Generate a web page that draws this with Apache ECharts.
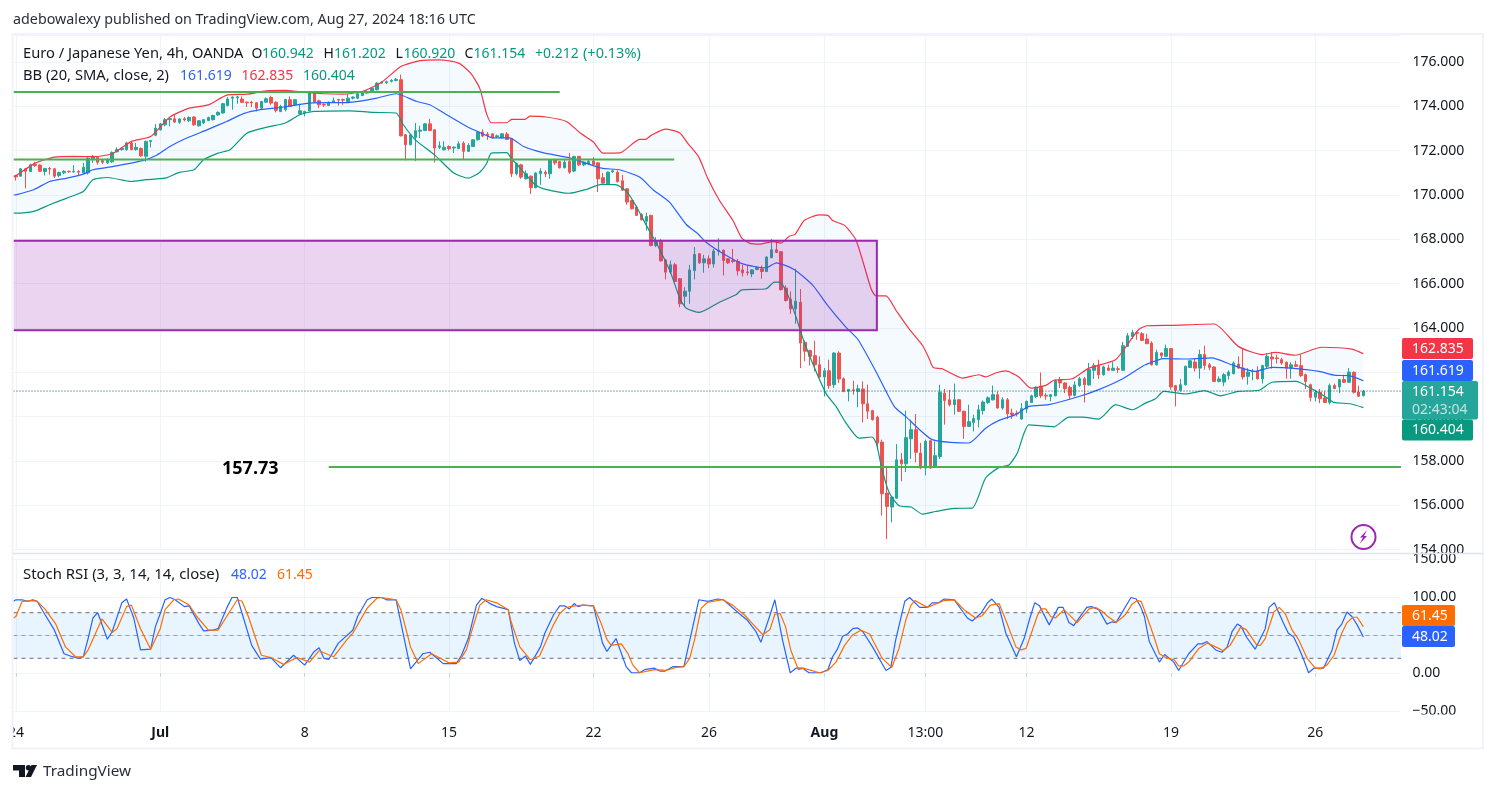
<!DOCTYPE html>
<html>
<head>
<meta charset="utf-8">
<title>EUR/JPY 4h</title>
<script src="https://cdn.jsdelivr.net/npm/echarts@6/dist/echarts.min.js"></script>
<style>
    html, body { margin: 0; padding: 0; background: #fff; }
    #main { width: 1496px; height: 793px; }
</style>
</head>
<body>
<div id="main"></div>
<script>
// time axis
var barCount = 288;
var tickIndex = [0, 30, 60, 90, 120, 144, 168, 189, 210, 240, 270];
var tickText = ['24', 'Jul', '8', '15', '22', '26', 'Aug', '13:00', '12', '19', '26'];
var priceTicks = { min: 154, max: 177.22, step: 2 };

// candles, each row: open, close, low, high
var candles = [
    [170.87,170.82,170.65,170.9],[170.85,171.18,170.83,171.22],[171.18,171.07,170.3,171.22],[171.06,171.36,171.05,171.42],
    [171.38,171.33,171.27,171.5],[171.35,171.07,171.05,171.38],[171.06,171.2,170.88,171.22],[171.2,171.17,170.92,171.26],
    [171.18,170.85,170.77,171.22],[170.88,171.02,170.8,171.05],[171,171.07,170.95,171.12],[171.07,171.05,171,171.1],
    [171.04,171.06,171.02,171.35],[171.06,171.03,170.88,171.12],[171,171.25,170.97,171.45],[171,171.66,170.92,171.74],
    [171.6,171.75,171.45,171.8],[171.7,171.48,171.37,171.72],[171.55,171.48,171.4,171.6],[171.45,171.62,171.4,171.65],
    [171.5,171.92,171.45,171.97],[171.95,172.05,171.92,172.15],[172.05,172.1,172,172.15],[172.05,172.35,172,172.4],
    [172.35,172.05,172.02,172.4],[172.05,172.15,172,172.35],[172.1,171.77,171.72,172.15],[171.75,172.42,171.5,172.45],
    [172.42,172.46,172.15,172.47],[172.7,173.02,172.65,173.2],[172.94,173.21,172.91,173.25],[173.17,173.4,173.1,173.47],
    [173.4,173.44,173.1,173.47],[173.44,173.29,173.25,173.62],[173.28,173.43,173.21,173.46],[173.44,173.39,173.32,173.52],
    [173.35,173.5,173.3,173.55],[173.52,173.17,173.12,173.55],[173.12,173.35,173.09,173.38],[173.25,173.4,173.21,173.43],
    [173.36,173.5,173.33,173.53],[173.4,173.59,173.36,173.62],[173.61,173.73,173.58,173.77],[173.7,174.12,173.67,174.15],
    [174.04,174.33,174,174.42],[174.37,174.42,173.85,174.45],[174.39,174.43,174.12,174.48],[174.33,174.18,174.15,174.45],
    [174.19,174.16,173.97,174.22],[174.19,174.16,173.97,174.25],[174.16,173.92,173.77,174.19],[173.92,174.22,173.88,174.25],
    [174.19,174.34,174.16,174.4],[174.4,174.15,174.07,174.48],[174.19,173.82,173.73,174.22],[173.77,174,173.74,174.07],
    [173.85,174.31,173.77,174.34],[174.3,174,173.97,174.45],[174.07,174.3,174.03,174.33],[173.67,173.8,173.62,174.12],
    [173.7,173.77,173.55,173.8],[173.8,174.6,173.77,174.63],[174.6,174.19,174.16,174.63],[174.25,174.07,173.92,174.3],
    [174.09,174.06,173.97,174.13],[174.04,174.19,174.01,174.22],[174.18,174.25,174.15,174.4],[174.31,174.28,174.03,174.34],
    [174.31,174.28,174.06,174.36],[174.22,174.37,174.19,174.57],[174.37,174.42,174.31,174.45],[174.37,174.57,174.34,174.6],
    [174.49,174.64,174.46,174.67],[174.6,174.67,174.57,174.72],[174.64,174.82,174.6,174.87],[174.75,175.05,174.72,175.09],
    [175.05,175.09,175.02,175.14],[175.07,175.11,175.02,175.16],[175.13,175.17,175.08,175.23],[175.17,175.22,175.13,175.28],
    [175.2,172.67,172.64,175.43],[172.72,172.27,171.56,172.75],[172.27,172.72,172.24,172.75],[172.6,172.9,171.53,173.25],
    [172.88,172.93,172.57,173.13],[172.91,173.21,172.88,173.25],[173.21,172.91,172.88,173.44],[172.94,172.12,171.47,172.97],
    [172.15,172.22,172.07,172.42],[172.04,172.16,172.01,172.42],[172.19,172.09,172.01,172.24],[172.12,172.16,171.89,172.19],
    [172.1,172.31,172.07,172.42],[172.34,171.97,171.59,172.42],[171.97,172.24,171.94,172.34],[172.19,172.49,172.16,172.52],
    [172.49,172.84,172.46,172.87],[172.84,172.66,172.61,172.96],[172.75,172.69,172.49,172.84],[172.76,172.58,172.55,172.79],
    [172.64,172.67,172.58,172.72],[172.58,172.76,172.55,172.79],[172.75,172.51,172.48,172.84],[172.54,170.96,170.81,172.57],
    [170.96,171.41,170.88,171.45],[171.36,170.81,170.73,171.41],[170.73,170.96,170.7,171.11],[170.85,170.33,170.05,170.88],
    [170.33,170.99,170.3,171.02],[170.96,171.08,170.46,171.21],[171.03,170.96,170.81,171.11],[170.96,171.59,170.73,171.62],
    [171.59,171.45,171.36,171.63],[171.51,171.23,171.2,171.54],[171.23,171.48,171.2,171.63],[171.51,171.03,170.96,171.9],
    [171.08,171.74,171.03,171.77],[171.74,171.36,171.3,171.77],[171.36,171.48,171.3,171.51],[171.41,171.51,171.36,171.63],
    [171.53,171.38,171.35,171.71],[171.45,170.73,170.13,171.48],[170.78,170.54,170.51,171],[170.51,171.03,170.48,171.06],
    [171.05,171.09,171,171.15],[171.03,170.6,170.57,171.11],[170.64,170.22,170.19,170.91],[170.28,169.68,169.56,170.31],
    [169.75,169.38,169.35,169.78],[169.45,169.08,169.05,169.53],[169.12,168.88,168.85,169.18],[168.82,169.03,168.4,169.2],
    [169.08,167.72,167.68,169.11],[167.72,167.95,167.65,168.1],[167.9,167.03,167,168.02],[167.07,166.52,166.19,167.12],
    [166.52,166.85,166.44,167.04],[166.85,166.1,166.07,166.94],[166.22,165.09,164.94,166.25],[165.43,165.66,164.98,165.84],
    [165.66,166.62,165.09,166.85],[166.59,167.32,166.19,167.65],[167.35,166.94,166.89,167.38],[166.94,167.12,166.49,167.3],
    [167.12,166.89,166.7,167.27],[166.89,167.47,166.73,167.57],[167.47,167.51,167.27,168.05],[167.51,167.04,166.37,167.54],
    [167.12,166.94,166.89,167.15],[167.04,167,166.92,167.57],[167,166.58,166.37,167.12],[166.62,166.49,166.32,166.85],
    [166.53,166.5,166.37,166.82],[166.44,166.62,166.29,166.65],[166.64,166.74,166.61,166.79],[166.67,166.55,166.22,166.82],
    [166.55,167.2,166.52,167.23],[167.17,167.53,167.15,168.02],[167.53,167.41,167.38,167.95],[167.44,165.73,165.69,167.47],
    [165.8,165.24,165.19,165.92],[165.31,164.86,164.64,165.65],[164.86,165.21,164.19,166.67],[165.16,163.32,162.19,165.76],
    [163.35,162.95,162.5,163.43],[162.98,162.72,162.3,163.02],[162.75,162.34,162.04,163.43],[162.34,161.79,161.74,162.72],
    [161.79,162.07,160.91,162.19],[162.07,161.4,161.25,162.57],[161.44,162.87,161.29,162.9],[162.87,161.7,161.52,162.95],
    [161.71,161.14,161.1,161.77],[161.15,161.23,160.69,161.24],[161.21,161.18,160.99,161.62],[161.14,161.26,160.42,161.44],
    [161.25,160.58,159.74,161.59],[160.58,160.24,159.89,161.44],[160.27,159.86,159.82,160.31],[159.97,158.81,158.51,160.04],
    [158.85,156.52,155.53,158.96],[156.55,155.95,154.47,157.75],[155.92,156.37,155.23,156.4],[156.32,158.05,156.29,158.76],
    [158.05,157.87,157.08,158.36],[157.87,159.05,157.5,160.27],[159,159.41,158.09,159.86],[159.41,158.39,157.94,160.12],
    [158.36,157.68,157.63,158.81],[157.68,158.88,157.35,158.96],[158.91,157.68,157.65,158.94],[157.75,158.24,157.71,158.88],
    [158.2,161.1,158.09,161.44],[161.06,160.73,159.64,161.25],[160.76,160.54,160.46,161.21],[160.54,160.76,160.09,161.49],
    [160.76,160.24,160.21,160.79],[160.24,159.56,159,160.27],[159.56,159.77,159.53,160.54],[159.74,159.91,159.33,160.09],
    [159.86,160.31,159.51,160.54],[160.27,160.66,160.09,160.73],[160.64,160.85,160.58,160.91],[160.76,160.99,160.73,161.4],
    [160.99,160.39,160.36,161.14],[160.39,160.76,160.31,160.87],[160.76,160.13,159.89,160.84],[160.16,160.09,159.89,160.36],
    [160.15,160.12,160.01,160.27],[159.89,160.36,159.86,160.61],[160.34,160.69,160.16,160.72],[160.64,160.94,160.61,160.99],
    [160.91,161.32,160.84,161.37],[161.37,160.94,160.84,161.99],[160.96,160.93,160.76,161.06],[160.91,160.99,160.69,161.02],
    [160.94,161.62,160.91,161.67],[161.67,161.52,161.29,161.79],[161.52,161.26,161.06,161.55],[161.32,160.96,160.76,161.4],
    [160.96,161.43,160.91,161.59],[161.4,161.71,161.34,161.79],[161.71,161.44,160.64,161.79],[161.43,162.12,161.4,162.42],
    [162.09,162.3,161.7,162.42],[162.3,161.89,161.7,162.57],[161.89,162.24,161.85,162.3],[162.19,162.09,162.06,162.34],
    [162.09,162.19,162.06,162.46],[162.16,162.13,161.97,162.27],[162.09,163.2,162.07,163.37],[163.17,163.65,163.14,163.77],
    [163.62,163.8,163.5,163.92],[163.79,163.76,163.47,163.85],[163.74,163.44,163.41,163.82],[163.5,163.29,163.28,163.74],
    [163.32,162.34,162.31,163.4],[162.34,162.9,162.31,163.02],[162.87,162.75,162.64,162.9],[162.72,163.07,162.69,163.25],
    [163.07,161.34,161.21,163.1],[161.4,161.19,160.46,161.43],[161.19,161.44,161.14,161.7],[161.44,162.27,161.4,162.3],
    [162.22,162.52,162.19,162.57],[162.46,162.19,162.04,162.64],[162.19,162.8,161.71,163.02],[162.8,162.31,162.12,163.2],
    [162.34,162.22,162.09,162.42],[162.24,161.59,161.56,162.27],[161.59,161.7,161.55,161.82],[161.56,161.89,161.37,161.97],
    [161.85,162.01,161.67,162.09],[161.94,162.42,161.91,162.49],[162.37,162.19,162.16,162.72],[162.19,161.79,161.67,163.05],
    [161.82,162.01,161.44,162.19],[162.03,162.06,161.64,162.15],[162.04,161.71,161.67,162.27],[161.7,162.3,161.49,162.34],
    [162.27,162.72,162.19,162.87],[162.69,162.6,162.16,162.92],[162.65,162.62,162.39,162.8],[162.57,162.42,162.34,162.65],
    [162.45,162.19,161.71,162.49],[162.19,162.34,161.71,162.45],[162.34,162.27,162.24,162.52],[162.3,161.85,161.79,162.8],
    [161.89,161.59,161.25,161.94],[161.44,160.87,160.69,161.49],[160.88,161.1,160.69,161.21],[161.1,160.81,160.61,161.25],
    [160.84,160.64,160.61,161.14],[160.64,161.4,160.54,161.49],[161.4,161.27,161.24,161.49],[161.34,161.67,161.06,161.7],
    [161.67,161.55,161.52,161.89],[161.55,162.01,161.52,162.19],[162,161.1,161.04,162.04],[161.11,160.92,160.89,161.4],
    [160.942,161.154,160.92,161.202]
];

// Bollinger bands, read as [bar position, price] where the lines turn
var bbUpper = [
    [-0.5,170.83],[0,170.87],[4,171.44],[8,171.71],[12,171.74],[16,171.73],[20,171.86],[24,172.42],[28,172.64],[32,173.52],[36,173.92],
    [40,174.07],[44,174.52],[48,174.55],[52,174.7],[56,174.72],[60,174.63],[64,174.57],[68,174.55],[72,174.67],[76,175.09],[80,175.8],
    [84,176.06],[88,176.1],[92,175.95],[94.5,175.5],[96.4,174.8],[97.8,173.67],[98.8,173.26],[102,173.26],[103,173.41],[105.8,173.41],
    [106.8,173.56],[110.2,173.52],[114.4,173.32],[117.2,172.81],[120,172.39],[122,171.89],[125.5,171.9],[129.6,172.51],[130.8,172.51],
    [132,172.69],[135,172.97],[137.9,172.81],[139.7,172.31],[141.9,171.71],[143.8,170.73],[146.2,169.75],[149,168.85],[150.8,168.07],
    [152.4,167.83],[154.5,167.78],[157.3,167.9],[159,167.83],[160.7,168.14],[161.9,168.22],[163.8,168.85],[166.9,169.1],[168.7,169.08],
    [169.7,168.85],[172.2,168.63],[174.6,167.95],[177.7,165.77],[178.7,165.45],[180.8,165.45],[182.9,164.79],[185.6,163.96],[188.4,163.21],
    [189.8,162.6],[190.6,162.22],[192.5,162.16],[196.7,161.74],[200.1,161.89],[201.5,161.79],[203.6,161.97],[205.7,162.06],[208.4,161.79],
    [210.9,161.29],[214,161.41],[215.7,161.64],[219.5,161.71],[223,162.19],[228.5,162.57],[231.2,163.32],[233.3,163.93],[235,164.1],
    [240,164.12],[249,164.18],[254,163.17],[259,162.8],[261.7,162.9],[265.8,162.77],[271.3,163.13],[277.6,163.05],[280,162.835]
];
var bbMiddle = [
    [-0.5,170],[0,170.01],[3.7,170.24],[7,170.61],[10.6,170.76],[14,170.94],[16,171.14],[20.3,171.29],[26.5,171.56],[29,171.77],[32,172.19],
    [35.5,172.57],[39.7,172.94],[43.8,173.32],[47.3,173.67],[50.8,173.85],[55.6,173.97],[61,174.15],[69.4,174.18],[75,174.37],[79,174.57],
    [83.3,174.22],[86,174.07],[89.5,173.62],[93.6,173.1],[96.4,172.82],[99.2,172.58],[102.6,172.58],[105.4,172.2],[109.5,171.91],[115,171.68],
    [121.7,171.21],[125.4,171.14],[129.6,170.81],[132.4,170.24],[135.8,169.68],[139.3,168.67],[141.7,168.25],[143.4,167.87],[147,167.35],
    [151,166.89],[155.9,166.71],[158,166.94],[161.7,166.64],[165.6,165.92],[168.7,165.01],[172.5,164.03],[175,163.47],[178.7,162.04],
    [182.5,160.46],[184.9,160],[190.4,158.96],[198,158.81],[201.5,159.48],[204.3,159.83],[207.7,160.09],[210.5,160.46],[214.6,160.54],
    [220.9,160.91],[225,161.22],[229.9,161.7],[233.3,162.16],[234.7,162.34],[238.5,162.62],[243.7,162.6],[248.5,162.65],[252.6,162.34],
    [257.5,162.04],[261,162.22],[265,162.19],[270.8,162.04],[274.2,161.86],[277,161.85],[280,161.619]
];
var bbLower = [
    [-0.5,169.18],[0,169.18],[3.7,169.26],[7,169.56],[10.6,169.86],[14,170.16],[16,170.69],[19,170.79],[24,170.61],[27,170.69],[31,170.76],
    [34,171.02],[37,171.14],[39,171.59],[42,171.89],[44.5,172.04],[48,172.79],[52,173.05],[56,173.25],[59,173.62],[62,173.77],[69.4,173.8],
    [74,173.73],[79,173.7],[80.5,173.17],[83,172.49],[87,171.81],[91,170.99],[94,170.76],[96.4,171.03],[97.8,171.41],[98.8,171.89],[102,171.91],
    [103,171.63],[104,171.41],[106.1,170.88],[107.9,170.46],[109.7,170.28],[115,170.08],[118.5,170.25],[121.7,170.48],[124.8,170.46],[127,170.13],
    [129,169.45],[131,168.63],[133,167.87],[136,166.52],[138,165.31],[139.3,164.89],[142,164.7],[146.2,165.16],[149.7,165.51],[150.8,165.72],
    [155.9,165.77],[157.6,166.07],[158.7,166.07],[160,165.69],[162,164.56],[163.8,163.36],[168.3,161.06],[170.4,160.46],[172.5,159.71],
    [175.2,159.03],[177.9,159.08],[178.8,158.78],[180,157.6],[181.5,156.55],[183.5,155.98],[186,155.92],[188.4,155.6],[191.1,155.72],[195,155.86],
    [198.7,155.87],[201.5,157.23],[204.3,157.71],[206.4,157.83],[208.1,158.36],[210.5,159.63],[215.7,159.54],[218.8,159.98],[221.6,159.98],
    [225,159.89],[228.5,160.54],[232,160.31],[234.7,160.61],[236.8,160.81],[238.5,161.14],[243,161.02],[247,161.17],[250.3,160.94],[254,161.14],
    [258.3,161.19],[261,161.55],[266,161.59],[269,161.29],[272.5,160.84],[273.9,160.64],[277.3,160.58],[280,160.404]
];

// Stoch RSI, read as [bar position, value]
var stochK = [
    [-0.5,95],[0,97],[1.3,97],[2.4,95],[3.5,97],[4.4,95],[6.1,77],[8,57],[10,26],[11.3,23],[13,20],[14,22],[15,46],[16,73],[17,80],[19,45],[20,55],
    [22,93],[23,98],[24.5,73],[25.9,31],[28,32],[29,62],[30,79],[31,97],[32,100],[33.1,97],[35,88],[36,89],[38,66],[39,56],[41,57],[42,59],[43.8,86],
    [44.9,100],[46,100],[47,79],[49,37],[50.8,19],[53,21],[55,7.5],[57.7,24],[60,11],[62,29],[63,34],[64,20],[65,18.5],[67,40],[70,57],[71,75],[73,97],
    [74,100],[76,100],[77,97],[79,97],[82,6],[84.6,26],[86,28],[88.8,13],[91.5,13],[92.6,24],[94,46],[95.7,90],[96.8,99],[98.5,92],[99.9,88],
    [102.3,84],[103.6,40],[104.7,17],[105.9,23],[106.9,12],[109,35],[109.9,53],[111.7,77],[113,89],[114,89],[115,85],[116,92],[116.8,88],[117.8,90],
    [120,89],[121.9,40],[122.8,29],[124.7,46],[126.8,9],[127.9,1],[129.6,1],[130.6,5],[132.7,7],[133.9,3],[134.8,3],[136.5,9],[138.8,9],[141.9,97],
    [143.8,95],[145.8,98],[147,97],[150.3,79],[152,70],[153.8,55],[154.8,41],[156.6,75],[157.7,97],[159.3,44],[160.9,1],[162.1,7],[163.5,7],[164.8,1],
    [167.3,1],[168.7,5],[169.7,22],[170.7,32],[171.8,49],[172.8,52],[173.9,59],[174.9,60],[176,55],[178,35],[180.8,4],[181.8,8],[182.8,44],[184.7,95],
    [185.7,100],[187.8,87],[189.4,87],[190.4,93],[191.7,93],[192.9,98],[195,97],[197.7,73],[198.7,69],[200.5,79],[201.9,93],[202.8,98],[204.3,87],
    [205.7,53],[207.9,22],[209.5,46],[210.7,73],[211.7,93],[212.7,89],[214.7,64],[216.6,87],[217.6,87],[218.8,67],[219.8,63],[222.5,87],[223.5,88],
    [225,84],[226.7,65],[227.8,68],[228.6,67],[231.7,100],[232.8,98],[233.7,88],[234.5,75],[235.5,42],[237.6,15],[238.7,25],[240.6,15],[241.6,4],
    [243.7,26],[245.6,39],[246.5,39],[247.5,42],[249.3,31],[250.6,28],[251.7,35],[252.7,55],[253.8,65],[254.6,62],[255.7,48],[257.5,32],[259.6,59],
    [260.4,87],[261.5,93],[263.4,66],[264.4,53],[265.5,48],[266.5,35],[267.6,18],[268.6,1],[269.7,7],[271.7,7],[273.5,31],[274.5,57],[275.5,65],
    [276.6,81],[277.6,75],[278.7,64],[280,48.02]
];
var stochD = [
    [-0.5,73],[0,75],[1.3,95],[3.5,96],[4.4,95],[6,85],[8.2,66],[10.3,35],[12.4,22],[14,22],[15,31],[17.9,72],[20,54],[21,59],[23,88],[24,90],[25.9,59],
    [28,32],[30,59],[31,84],[32.8,97],[33.8,98],[36,90],[37.6,75],[40,57],[42,57],[43.8,75],[46,97],[47,95],[48.3,75],[51,24],[53,21],[55.6,12],[58.4,21],
    [61,15],[63,30],[66,22],[68.7,44],[70,53],[73,86],[75,99],[76,100],[79,97],[80,84],[82,35],[83.6,13],[86.4,26],[90,14],[92,15],[93.6,31],[95,62],
    [96.4,90],[97.7,97],[99.9,93],[102.3,84],[102.8,70],[104.7,35],[106.9,18],[108.8,23],[111.7,64],[113,79],[114.4,87],[116.1,89],[117.8,90],[120,89],
    [121.6,66],[122.8,45],[123.7,37],[125.8,39],[127.2,26],[128.2,11],[129.6,1],[132.7,5],[135,4],[137.2,8],[138.8,9],[140,20],[141,44],[142.4,86],
    [143.8,94],[146.9,97],[148.9,90],[151.4,77],[153,66],[155.2,51],[156.7,58],[157.7,78],[158.8,79],[159.9,62],[161,31],[162.6,5],[163.6,7],[167,1],
    [168.7,4],[170.4,15],[172.2,37],[173.9,51],[175.6,57],[177.4,52],[180,20],[182,8],[183.5,33],[184.9,70],[186,90],[186.8,96],[189.4,87],[192.9,96],
    [195,97],[197,84],[199.4,73],[200.8,76],[202.5,90],[204.3,92],[205.7,70],[207.8,35],[208.9,31],[209.9,33],[211,53],[212.3,77],[213,85],[214,85],
    [215,75],[216,73],[217.8,84],[220.5,67],[223,85],[224.3,87],[225.7,82],[226.7,76],[228.6,67],[230.5,77],[231.9,91],[233,96],[233.8,95],[235,75],
    [236.5,48],[237.6,26],[238.9,21],[240.7,18],[241.6,10],[242.6,10],[243.7,15],[245.8,33],[247.6,40],[249.3,35],[250.9,30],[252.3,37],[254.5,61],
    [255.6,58],[257.9,37],[258.6,37],[259.6,46],[261.4,81],[262.5,87],[263.8,78],[265.2,57],[266.5,45],[268.3,20],[270,7],[271,6],[272.4,11],[273.9,24],
    [275.5,53],[276.6,67],[277.8,74],[278.7,74],[280,61.45]
];

// hand drawn levels on the chart
var lastPrice = 161.154;
var upperLevel = { price: 174.65, endBar: 113 };
var midLevel = { price: 171.6, endBar: 136.8 };
var lowLevel = { price: 157.73, startBar: 65 };
var zoneTop = 167.94;
var zoneBottom = 163.9;
var zoneEndBar = 178.9;
var stochBand = [20, 50, 80];

var UP = '#26a69a', DOWN = '#ef5350';
var BLUE = '#2962ff', RED = '#f23645', GREEN = '#089981', ORANGE = '#ff6d00';
var FONT = '"Noto Sans", sans-serif';
var TEXT = '#131722', GRID = '#f0f3fa';

var categories = [];
for (var n = 0; n < barCount; n++) {
    var at = tickIndex.indexOf(n);
    categories.push(at >= 0 ? tickText[at] : '');
}

function isTick(index, value) {
    return value !== '';
}

function categoryAxis(gridIndex, showLabel) {
    return {
        type: 'category',
        gridIndex: gridIndex,
        data: categories,
        boundaryGap: true,
        axisLine: { show: false },
        axisTick: { show: showLabel, interval: isTick, alignWithLabel: true, length: 3, lineStyle: { color: '#c8ccd6' } },
        splitLine: { show: true, interval: isTick, alignWithLabel: true, lineStyle: { color: GRID, width: 1 } },
        axisLabel: {
            show: showLabel,
            interval: isTick,
            margin: 15,
            color: TEXT,
            fontFamily: FONT,
            fontSize: 14,
            hideOverlap: false,
            showMinLabel: true,
            formatter: function (value) {
                return value === 'Jul' || value === 'Aug' ? '{b|' + value + '}' : value;
            },
            rich: { b: { fontWeight: 'bold', color: TEXT, fontFamily: FONT, fontSize: 14 } }
        }
    };
}

function barAxis(gridIndex) {
    return { type: 'value', gridIndex: gridIndex, min: -0.5, max: barCount - 0.5, show: false };
}

function shapes(xAxisIndex, yAxisIndex, z, anchor, draw) {
    return {
        type: 'custom',
        coordinateSystem: 'cartesian2d',
        xAxisIndex: xAxisIndex,
        yAxisIndex: yAxisIndex,
        z: z,
        silent: true,
        clip: false,
        data: [[0, anchor]],
        renderItem: function (params, api) {
            return { type: 'group', children: draw(api) };
        }
    };
}

function path(api, points, style) {
    return {
        type: 'polyline',
        shape: { points: points.map(function (p) { return api.coord(p); }) },
        style: style
    };
}

function area(api, points, fill) {
    return {
        type: 'polygon',
        shape: { points: points.map(function (p) { return api.coord(p); }) },
        style: { fill: fill, stroke: null }
    };
}

function indicatorLine(name, values, color, xAxisIndex, yAxisIndex, smooth) {
    return {
        name: name,
        type: 'line',
        xAxisIndex: xAxisIndex,
        yAxisIndex: yAxisIndex,
        z: 5,
        data: values,
        showSymbol: false,
        silent: true,
        smooth: smooth,
        lineStyle: { color: color, width: 1.2 }
    };
}

function label(text, x, y, fill, size, weight, opacity) {
    return {
        type: 'text',
        x: x,
        y: y,
        z: 100,
        silent: true,
        style: {
            text: text,
            fill: fill,
            opacity: opacity === undefined ? 1 : opacity,
            font: (weight || 'normal') + ' ' + (size || 14) + 'px ' + FONT,
            verticalAlign: 'middle'
        }
    };
}

function box(x, y, w, h, fill, r) {
    return {
        type: 'rect',
        z: 90,
        silent: true,
        shape: { x: x, y: y, width: w, height: h, r: r || 0 },
        style: { fill: fill }
    };
}

function tag(text, x, y, w, h, fill) {
    return [box(x, y, w, h, fill, 2), label(text, x + 10, y + h / 2 + 0.5, '#fff')];
}

var option = {
    animation: false,
    backgroundColor: '#fff',
    grid: [
        { left: 13.5, top: 35, width: 1386, height: 514.6 },
        { left: 13.5, top: 559.5, width: 1386, height: 152 }
    ],
    xAxis: [categoryAxis(0, false), barAxis(0), categoryAxis(1, true), barAxis(1)],
    yAxis: [
        {
            type: 'value',
            gridIndex: 0,
            position: 'right',
            min: priceTicks.min,
            max: priceTicks.max,
            interval: priceTicks.step,
            axisLine: { show: false },
            axisTick: { show: false },
            splitLine: { lineStyle: { color: GRID, width: 1 } },
            axisLabel: {
                margin: 13,
                padding: [2, 0, 0, 0],
                color: TEXT,
                fontFamily: FONT,
                fontSize: 14,
                showMaxLabel: false,
                formatter: function (v) { return v.toFixed(3); }
            }
        },
        {
            type: 'value',
            gridIndex: 1,
            position: 'right',
            min: -50,
            max: 150,
            interval: 50,
            axisLine: { show: false },
            axisTick: { show: false },
            splitLine: { lineStyle: { color: GRID, width: 1 } },
            axisLabel: {
                margin: 13,
                padding: [2, 0, 0, 0],
                color: TEXT,
                fontFamily: FONT,
                fontSize: 14,
                formatter: function (v) { return v.toFixed(2).replace('-', '\u2212'); }
            }
        }
    ],
    series: [
        shapes(1, 0, 1, 170, function (api) {
            return [area(api, bbUpper.concat(bbLower.slice().reverse()), 'rgba(33,150,243,0.05)')];
        }),
        {
            type: 'candlestick',
            xAxisIndex: 0,
            yAxisIndex: 0,
            z: 3,
            silent: true,
            barWidth: 3,
            data: candles,
            itemStyle: { color: UP, color0: DOWN, borderColor: UP, borderColor0: DOWN, borderWidth: 1 }
        },
        indicatorLine('BB upper', bbUpper, RED, 1, 0, 0.2),
        indicatorLine('BB basis', bbMiddle, BLUE, 1, 0, 0.2),
        indicatorLine('BB lower', bbLower, GREEN, 1, 0, 0.2),
        shapes(1, 0, 8, 170, function (api) {
            var right = barCount - 0.2;
            return [
                area(api, [[-0.5, zoneTop], [zoneEndBar, zoneTop], [zoneEndBar, zoneBottom], [-0.5, zoneBottom]], 'rgba(156,39,176,0.2)'),
                path(api, [[-0.5, zoneTop], [zoneEndBar, zoneTop], [zoneEndBar, zoneBottom], [-0.5, zoneBottom]], { stroke: '#9c27b0', lineWidth: 2, fill: null }),
                path(api, [[-0.5, upperLevel.price], [upperLevel.endBar, upperLevel.price]], { stroke: '#4caf50', lineWidth: 2, fill: null }),
                path(api, [[-0.5, midLevel.price], [midLevel.endBar, midLevel.price]], { stroke: '#4caf50', lineWidth: 2, fill: null }),
                path(api, [[lowLevel.startBar, lowLevel.price], [right, lowLevel.price]], { stroke: '#4caf50', lineWidth: 2, fill: null }),
                path(api, [[-0.5, lastPrice], [right, lastPrice]], { stroke: '#005a4f', lineWidth: 1, lineDash: [1, 2], fill: null })
            ];
        }),
        shapes(3, 1, 1, 50, function (api) {
            var right = barCount - 0.2;
            return [
                area(api, [[-0.5, stochBand[2]], [right, stochBand[2]], [right, stochBand[0]], [-0.5, stochBand[0]]], 'rgba(33,150,243,0.1)'),
                path(api, [[-0.5, stochBand[2]], [right, stochBand[2]]], { stroke: '#6a6d78', lineWidth: 1, lineDash: [4, 4], fill: null }),
                path(api, [[-0.5, stochBand[1]], [right, stochBand[1]]], { stroke: 'rgba(120,123,134,0.7)', lineWidth: 1, lineDash: [4, 4], fill: null }),
                path(api, [[-0.5, stochBand[0]], [right, stochBand[0]]], { stroke: '#6a6d78', lineWidth: 1, lineDash: [4, 4], fill: null })
            ];
        }),
        indicatorLine('K', stochK, BLUE, 3, 1, false),
        indicatorLine('D', stochD, ORANGE, 3, 1, false)
    ],
    graphic: { elements: [].concat(
        [
            // trims labels that overrun the frame, then the frame itself
            box(0, 716, 12, 28, '#fff'),
            box(1402, 714.5, 78, 12, '#fff'),
            {
                type: 'rect', z: 95, silent: true,
                shape: { x: 12.5, y: 34, width: 1470.5, height: 714.5 },
                style: { fill: null, stroke: '#f0f3fa', lineWidth: 2 }
            },
            {
                type: 'line', z: 95, silent: true,
                shape: { x1: 13, y1: 553.5, x2: 1483, y2: 553.5 },
                style: { stroke: '#e0e3eb', lineWidth: 1.5 }
            },
            label('adebowalexy published on TradingView.com, Aug 27, 2024 18:16 UTC', 13, 20, '#2a2e39', 14.3),
            label('Euro / Japanese Yen, 4h, OANDA', 23, 54, TEXT, 14.7),
            label('O', 251.5, 54, TEXT), label('160.942', 262, 54, GREEN),
            label('H', 323.5, 54, TEXT), label('161.202', 334, 54, GREEN),
            label('L', 395.5, 54, TEXT), label('160.920', 403.5, 54, GREEN),
            label('C', 464.5, 54, TEXT), label('161.154', 473.5, 54, GREEN),
            label('+0.212', 535, 54, GREEN), label('(+0.13%)', 583, 54, GREEN, 14.5),
            label('BB (20, SMA, close, 2)', 23, 76, TEXT, 14.7),
            label('161.619', 180, 76, BLUE), label('162.835', 241.5, 76, RED), label('160.404', 303, 76, GREEN),
            label('Stoch RSI (3, 3, 14, 14, close)', 23, 575, TEXT, 14.9),
            label('48.02', 231, 575, BLUE), label('61.45', 277, 575, ORANGE),
            label('157.73', 222, 469, '#000', 18, 'bold')
        ],
        tag('162.835', 1402, 338, 71, 21, RED),
        tag('161.619', 1402, 360, 71, 21, BLUE),
        [box(1402, 381, 76, 38.5, UP, 2), label('161.154', 1412, 392, '#fff'), label('02:43:04', 1412, 410, '#fff', 14, 'normal', 0.7)],
        tag('160.404', 1402, 419.5, 71, 21, GREEN),
        tag('61.45', 1402, 605, 53, 21, ORANGE),
        tag('48.02', 1402, 626, 53, 21, BLUE),
        [
            // replay badge
            {
                type: 'circle', z: 90, silent: true,
                shape: { cx: 1363.5, cy: 537, r: 12 },
                style: { fill: '#fff', stroke: '#9c27b0', lineWidth: 2 }
            },
            {
                type: 'polygon', z: 91, silent: true,
                shape: { points: [[1367, 530], [1360, 537.5], [1363, 537.5], [1359.5, 544], [1367, 536], [1364, 536]] },
                style: { fill: '#9c27b0' }
            },
            // logo
            box(13, 765, 12, 5.5, TEXT),
            box(19, 770, 6, 7, TEXT),
            { type: 'circle', z: 90, silent: true, shape: { cx: 28.5, cy: 767.7, r: 2.7 }, style: { fill: TEXT } },
            { type: 'polygon', z: 90, silent: true, shape: { points: [[31.5, 765], [37, 765], [31, 777], [25.5, 777]] }, style: { fill: TEXT } },
            label('TradingView', 43, 771.5, '#2a2e39', 15.3)
        ]
    ) }
};

var myChart = echarts.init(document.getElementById('main'), null, { renderer: 'canvas' });
myChart.setOption(option);
</script>
</body>
</html>
